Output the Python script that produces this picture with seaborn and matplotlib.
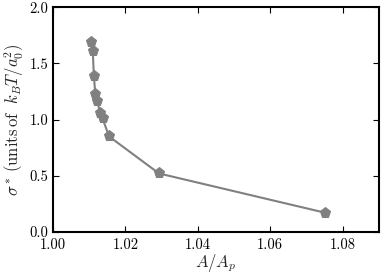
import matplotlib
matplotlib.use("Agg")
import matplotlib.pyplot as plt
import seaborn as sns
import pandas as pd

# area ratio A/A_p and tension sigma*
area_ratio = [1.0105, 1.0110, 1.0113, 1.0117, 1.0122, 1.0130, 1.0137, 1.0155, 1.0293, 1.0752]
sigma = [1.69, 1.61, 1.39, 1.23, 1.17, 1.06, 1.01, 0.85, 0.52, 0.17]

df = pd.DataFrame({"A": area_ratio, "sigma": sigma})

sns.set_style("ticks")
plt.rcParams["font.family"] = "serif"
plt.rcParams["font.serif"] = ["cmr10", "DejaVu Serif"]
plt.rcParams["mathtext.fontset"] = "cm"
plt.rcParams["axes.formatter.use_mathtext"] = True
plt.rcParams["axes.unicode_minus"] = False

fig = plt.figure(figsize=(3.81, 2.74), dpi=100)
ax = fig.add_axes([0.139, 0.154, 0.855, 0.819])

sns.lineplot(x="A", y="sigma", data=df, ax=ax, color="#808080", linewidth=1.5,
             marker="p", markersize=8, markeredgecolor="#808080", sort=False)

ax.set_xlim(1.00, 1.09)
ax.set_ylim(0.0, 2.0)
ax.set_xticks([1.00, 1.02, 1.04, 1.06, 1.08])
ax.set_xticklabels(["1.00", "1.02", "1.04", "1.06", "1.08"])
ax.set_yticks([0.0, 0.5, 1.0, 1.5, 2.0])
ax.set_yticklabels(["0.0", "0.5", "1.0", "1.5", "2.0"])
ax.tick_params(direction="in", top=True, right=True, length=4, width=0.8,
               labelsize=10.5, colors="black")
ax.tick_params(axis="x", pad=4.5)
for s in ax.spines.values():
    s.set_linewidth(1.5)
    s.set_color("black")

ax.set_xlabel(r"$A/A_p$", fontsize=12, labelpad=0)
ax.set_ylabel(r"$\sigma^*\,(\mathrm{units\,of}\ \ k_BT/a_0^2)$", fontsize=12, labelpad=2)

fig.savefig("out.png", dpi=100)
